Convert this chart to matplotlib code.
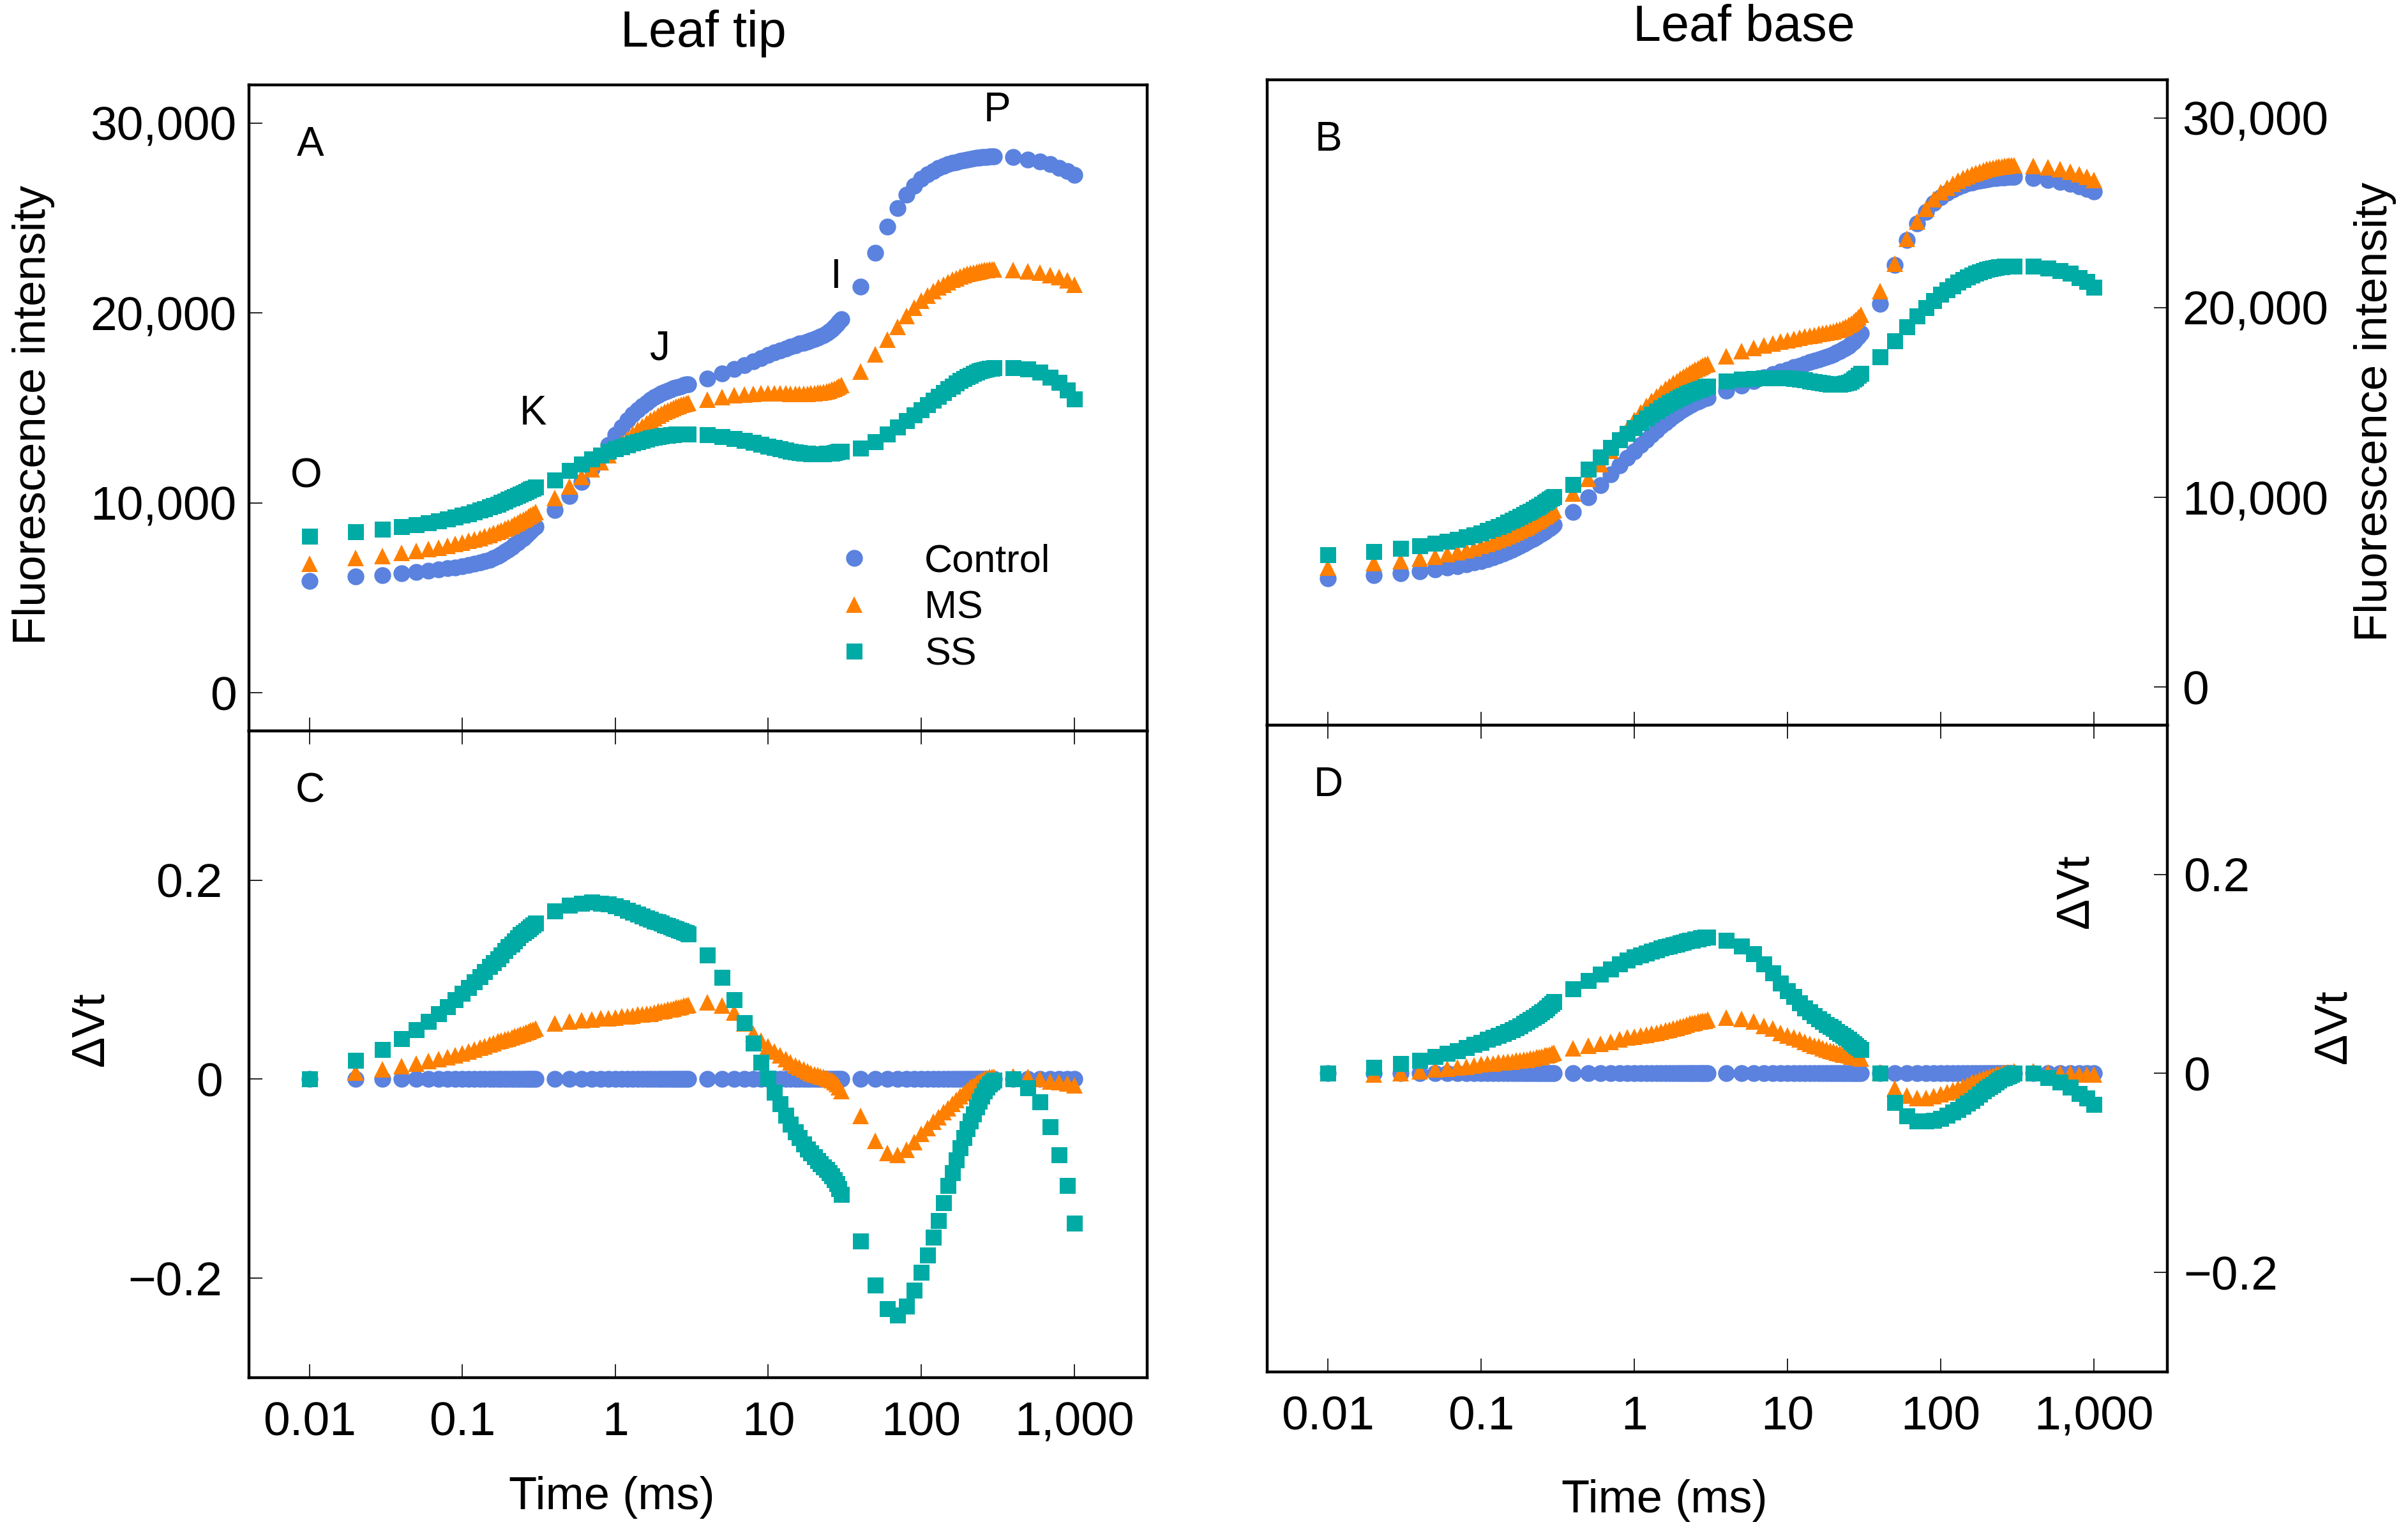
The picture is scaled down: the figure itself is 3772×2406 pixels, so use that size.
import matplotlib
matplotlib.use("Agg")
import matplotlib.pyplot as plt
from matplotlib.ticker import NullLocator

plt.rcParams['font.family'] = ['Liberation Sans', 'DejaVu Sans']

# sampling times of the OJIP transient (ms)
time_ms = [
    0.01, 0.02, 0.03, 0.04, 0.05, 0.06, 0.07, 0.08, 0.09, 0.10,
    0.11, 0.12, 0.13, 0.14, 0.15, 0.16, 0.17, 0.18, 0.19, 0.20,
    0.21, 0.22, 0.23, 0.24, 0.25, 0.26, 0.27, 0.28, 0.29, 0.30,
    0.4, 0.5, 0.6, 0.7, 0.8, 0.9, 1.0, 1.1, 1.2, 1.3, 1.4, 1.5, 1.6, 1.7,
    1.8, 1.9, 2.0, 2.1, 2.2, 2.3, 2.4, 2.5, 2.6, 2.7, 2.8, 2.9, 3.0,
    4, 5, 6, 7, 8, 9, 10, 11, 12, 13, 14, 15, 16, 17,
    18, 19, 20, 21, 22, 23, 24, 25, 26, 27, 28, 29, 30,
    40, 50, 60, 70, 80, 90, 100, 110, 120, 130, 140, 150, 160, 170,
    180, 190, 200, 210, 220, 230, 240, 250, 260, 270, 280, 290, 300,
    400, 500, 600, 700, 800, 900, 1000,
]

# ---- A: leaf tip, fluorescence intensity ----
tip_control = [
    5900, 6120, 6200, 6290, 6380, 6450, 6510, 6560, 6610, 6660,
    6720, 6790, 6860, 6940, 7020, 7110, 7210, 7320, 7430, 7550,
    7680, 7800, 7920, 8040, 8160, 8280, 8400, 8520, 8640, 8750,
    9610, 10380, 11100, 11800, 12450, 13050, 13600, 14000, 14350, 14650, 14900, 15100, 15280, 15430,
    15560, 15670, 15770, 15850, 15920, 15980, 16030, 16080, 16120, 16160, 16200, 16230, 16260,
    16560, 16820, 17050, 17260, 17450, 17620, 17780, 17920, 18040, 18140, 18230, 18310, 18380, 18440,
    18500, 18560, 18620, 18690, 18760, 18840, 18930, 19030, 19140, 19260, 19390, 19530, 19680,
    21370, 23160, 24540, 25520, 26220, 26700, 27050, 27300, 27480, 27620, 27730, 27820, 27890, 27950,
    28000, 28040, 28080, 28110, 28140, 28160, 28180, 28200, 28210, 28220, 28230, 28230, 28230,
    28190, 28080, 27970, 27820, 27640, 27460, 27250,
]
tip_ms = [
    6820, 7100, 7220, 7360, 7470, 7560, 7650, 7740, 7830, 7920,
    8000, 8080, 8160, 8240, 8320, 8400, 8480, 8560, 8640, 8720,
    8800, 8880, 8960, 9040, 9120, 9200, 9280, 9360, 9440, 9520,
    10270, 10880, 11360, 11780, 12160, 12520, 12850, 13140, 13400, 13640, 13850, 14030, 14200, 14350,
    14480, 14600, 14700, 14790, 14870, 14940, 15000, 15060, 15110, 15160, 15200, 15240, 15280,
    15450, 15580, 15660, 15710, 15740, 15760, 15770, 15770, 15770, 15760, 15750, 15740, 15740, 15740,
    15750, 15760, 15780, 15800, 15820, 15850, 15880, 15920, 15960, 16010, 16070, 16140, 16220,
    16930, 17810, 18600, 19280, 19830, 20270, 20630, 20920, 21150, 21340, 21500, 21630, 21740, 21830,
    21910, 21980, 22040, 22090, 22130, 22170, 22200, 22230, 22250, 22270, 22280, 22290, 22290,
    22250, 22190, 22120, 22000, 21880, 21720, 21500,
]
tip_ss = [
    8240, 8480, 8630, 8740, 8860, 8970, 9070, 9170, 9260, 9350,
    9440, 9530, 9620, 9700, 9780, 9860, 9940, 10020, 10100, 10180,
    10250, 10320, 10390, 10460, 10530, 10600, 10660, 10720, 10780, 10840,
    11190, 11700, 12060, 12320, 12530, 12700, 12840, 12960, 13060, 13150, 13230, 13300, 13360, 13410,
    13450, 13490, 13520, 13550, 13570, 13590, 13600, 13610, 13620, 13620, 13620, 13620, 13620,
    13590, 13500, 13400, 13300, 13190, 13090, 12990, 12910, 12840, 12780, 12730, 12690, 12650, 12620,
    12600, 12590, 12580, 12580, 12580, 12590, 12600, 12610, 12630, 12650, 12670, 12700, 12730,
    12890, 13220, 13620, 13980, 14320, 14620, 14900, 15160, 15400, 15620, 15820, 16000, 16160, 16300,
    16430, 16540, 16640, 16730, 16810, 16880, 16940, 16990, 17030, 17060, 17080, 17100, 17110,
    17130, 17040, 16870, 16620, 16330, 15950, 15470,
]

# ---- B: leaf base, fluorescence intensity ----
base_control = [
    5730, 5900, 6010, 6100, 6200, 6290, 6380, 6470, 6560, 6650,
    6750, 6850, 6950, 7050, 7150, 7250, 7350, 7450, 7550, 7650,
    7740, 7830, 7920, 8010, 8100, 8190, 8280, 8370, 8460, 8550,
    9230, 9990, 10650, 11200, 11680, 12080, 12430, 12750, 13040, 13300, 13540, 13760, 13950, 14120,
    14280, 14420, 14550, 14660, 14760, 14850, 14930, 15000, 15060, 15120, 15170, 15210, 15250,
    15610, 15900, 16130, 16320, 16480, 16620, 16740, 16850, 16950, 17040, 17120, 17200, 17270, 17340,
    17410, 17480, 17550, 17630, 17710, 17800, 17890, 17990, 18100, 18220, 18350, 18490, 18640,
    20210, 22240, 23550, 24430, 25050, 25500, 25830, 26060, 26230, 26360, 26460, 26540, 26600, 26650,
    26690, 26730, 26760, 26790, 26810, 26830, 26850, 26860, 26870, 26880, 26880, 26880, 26880,
    26840, 26730, 26620, 26510, 26380, 26250, 26110,
]
base_ms = [
    6320, 6540, 6650, 6780, 6890, 7000, 7110, 7220, 7330, 7440,
    7540, 7640, 7740, 7840, 7940, 8040, 8140, 8240, 8340, 8440,
    8530, 8620, 8710, 8800, 8890, 8980, 9070, 9160, 9250, 9340,
    10210, 10980, 11750, 12450, 13080, 13620, 14080, 14470, 14800, 15080, 15320, 15530, 15710, 15870,
    16010, 16140, 16260, 16370, 16470, 16560, 16640, 16720, 16790, 16860, 16930, 16990, 17050,
    17430, 17700, 17880, 18010, 18120, 18210, 18290, 18360, 18420, 18470, 18520, 18560, 18600, 18640,
    18680, 18720, 18760, 18810, 18860, 18920, 18990, 19070, 19160, 19260, 19370, 19490, 19620,
    20860, 22320, 23620, 24550, 25220, 25700, 26070, 26330, 26530, 26690, 26820, 26930, 27020, 27100,
    27170, 27230, 27280, 27320, 27360, 27390, 27420, 27440, 27460, 27470, 27480, 27490, 27490,
    27470, 27380, 27280, 27160, 27010, 26880, 26710,
]
base_ss = [
    6980, 7150, 7330, 7460, 7580, 7690, 7800, 7910, 8020, 8130,
    8240, 8350, 8460, 8570, 8680, 8790, 8890, 8990, 9090, 9190,
    9280, 9370, 9460, 9550, 9640, 9730, 9810, 9890, 9970, 10050,
    10690, 11480, 12120, 12620, 13030, 13380, 13680, 13940, 14170, 14370, 14550, 14710, 14850, 14980,
    15090, 15190, 15280, 15360, 15440, 15510, 15570, 15630, 15680, 15730, 15770, 15810, 15850,
    16120, 16220, 16270, 16300, 16310, 16300, 16280, 16250, 16220, 16180, 16140, 16100, 16060, 16020,
    15990, 15960, 15950, 15950, 15960, 15980, 16020, 16070, 16140, 16220, 16310, 16420, 16540,
    17390, 18240, 18980, 19560, 20000, 20380, 20690, 20940, 21150, 21330, 21480, 21610, 21720, 21810,
    21890, 21950, 22010, 22050, 22090, 22120, 22140, 22160, 22170, 22180, 22180, 22180, 22180,
    22180, 22090, 21960, 21810, 21590, 21370, 21080,
]

# ---- C: leaf tip, delta Vt (control is the reference -> zero) ----
dvt_tip_control = [0.0] * len(time_ms)
dvt_tip_ms = [
    0.000, 0.007, 0.010, 0.013, 0.016, 0.018, 0.020, 0.022, 0.024, 0.026,
    0.028, 0.030, 0.032, 0.033, 0.035, 0.036, 0.038, 0.039, 0.040, 0.041,
    0.042, 0.043, 0.044, 0.045, 0.046, 0.047, 0.048, 0.049, 0.050, 0.051,
    0.056, 0.058, 0.059, 0.060, 0.061, 0.061, 0.062, 0.063, 0.063, 0.064, 0.065, 0.065, 0.066, 0.066,
    0.067, 0.068, 0.068, 0.069, 0.070, 0.070, 0.071, 0.072, 0.072, 0.073, 0.074, 0.074, 0.075,
    0.077, 0.074, 0.067, 0.056, 0.046, 0.039, 0.033, 0.028, 0.024, 0.020, 0.017, 0.014, 0.012, 0.010,
    0.008, 0.006, 0.005, 0.004, 0.003, 0.002, 0.001, 0.000, -0.001, -0.003, -0.005, -0.008, -0.012,
    -0.037, -0.062, -0.074, -0.076, -0.071, -0.063, -0.055, -0.049, -0.043, -0.038, -0.033, -0.029, -0.025, -0.021,
    -0.017, -0.014, -0.011, -0.008, -0.006, -0.004, -0.002, -0.001, 0.000, 0.001, 0.002, 0.002, 0.002,
    0.003, 0.002, 0.000, -0.002, -0.003, -0.004, -0.006,
]
dvt_tip_ss = [
    0.000, 0.019, 0.030, 0.041, 0.050, 0.058, 0.066, 0.073, 0.080, 0.086,
    0.092, 0.098, 0.103, 0.108, 0.113, 0.117, 0.121, 0.125, 0.129, 0.133,
    0.136, 0.139, 0.142, 0.145, 0.147, 0.149, 0.151, 0.153, 0.155, 0.157,
    0.169, 0.175, 0.177, 0.178, 0.177, 0.176, 0.174, 0.172, 0.170, 0.168, 0.166, 0.164, 0.162, 0.161,
    0.159, 0.158, 0.157, 0.155, 0.154, 0.153, 0.152, 0.151, 0.150, 0.149, 0.148, 0.147, 0.146,
    0.125, 0.102, 0.080, 0.057, 0.036, 0.017, 0.001, -0.013, -0.025, -0.036, -0.045, -0.053, -0.059, -0.065,
    -0.070, -0.074, -0.078, -0.082, -0.085, -0.088, -0.091, -0.094, -0.097, -0.101, -0.105, -0.110, -0.116,
    -0.163, -0.207, -0.231, -0.237, -0.228, -0.212, -0.194, -0.177, -0.159, -0.142, -0.124, -0.107, -0.094, -0.081,
    -0.069, -0.059, -0.050, -0.042, -0.035, -0.028, -0.022, -0.017, -0.012, -0.008, -0.005, -0.003, -0.001,
    0.000, -0.009, -0.023, -0.048, -0.076, -0.107, -0.145,
]

# ---- D: leaf base, delta Vt ----
dvt_base_control = [0.0] * len(time_ms)
dvt_base_ms = [
    0.000, -0.001, 0.000, 0.002, 0.004, 0.005, 0.006, 0.007, 0.008, 0.009,
    0.010, 0.010, 0.011, 0.011, 0.012, 0.012, 0.013, 0.013, 0.014, 0.014,
    0.015, 0.015, 0.016, 0.016, 0.017, 0.018, 0.018, 0.019, 0.020, 0.021,
    0.025, 0.028, 0.030, 0.032, 0.034, 0.036, 0.037, 0.038, 0.039, 0.040, 0.041, 0.042, 0.043, 0.044,
    0.045, 0.046, 0.047, 0.048, 0.049, 0.050, 0.050, 0.051, 0.052, 0.052, 0.053, 0.053, 0.054,
    0.056, 0.055, 0.052, 0.048, 0.045, 0.041, 0.038, 0.036, 0.034, 0.032, 0.030, 0.028, 0.027, 0.025,
    0.024, 0.023, 0.022, 0.021, 0.020, 0.019, 0.019, 0.018, 0.017, 0.017, 0.016, 0.016, 0.015,
    0.001, -0.015, -0.022, -0.025, -0.025, -0.023, -0.021, -0.019, -0.017, -0.015, -0.013, -0.011, -0.009, -0.008,
    -0.006, -0.005, -0.004, -0.003, -0.002, -0.001, -0.001, 0.000, 0.000, 0.001, 0.001, 0.001, 0.002,
    0.002, 0.001, 0.000, 0.000, -0.001, -0.001, -0.001,
]
dvt_base_ss = [
    0.000, 0.006, 0.010, 0.013, 0.017, 0.020, 0.023, 0.026, 0.029, 0.031,
    0.034, 0.036, 0.038, 0.040, 0.042, 0.044, 0.046, 0.048, 0.050, 0.052,
    0.054, 0.056, 0.058, 0.060, 0.062, 0.064, 0.066, 0.068, 0.070, 0.072,
    0.085, 0.093, 0.100, 0.105, 0.110, 0.114, 0.117, 0.119, 0.121, 0.123, 0.124, 0.126, 0.127, 0.128,
    0.129, 0.130, 0.131, 0.132, 0.133, 0.134, 0.134, 0.135, 0.135, 0.136, 0.136, 0.137, 0.137,
    0.134, 0.128, 0.120, 0.110, 0.101, 0.091, 0.083, 0.077, 0.071, 0.066, 0.062, 0.058, 0.055, 0.052,
    0.049, 0.047, 0.045, 0.042, 0.040, 0.038, 0.036, 0.034, 0.032, 0.030, 0.028, 0.026, 0.024,
    0.000, -0.029, -0.043, -0.048, -0.048, -0.047, -0.045, -0.042, -0.039, -0.036, -0.033, -0.030, -0.027, -0.024,
    -0.021, -0.018, -0.015, -0.013, -0.011, -0.009, -0.007, -0.005, -0.004, -0.003, -0.002, -0.001, 0.000,
    0.000, -0.004, -0.009, -0.014, -0.020, -0.025, -0.031,
]

series_names = ['Control', 'MS', 'SS']
colors = {'Control': '#5a82de', 'MS': '#ff8000', 'SS': '#00aba6'}
markers = {'Control': 'o', 'MS': '^', 'SS': 's'}
msizes = {'Control': 19, 'MS': 19, 'SS': 18}

x_ticks = [0.01, 0.1, 1, 10, 100, 1000]
x_ticklabels = ['0.01', '0.1', '1', '10', '100', '1,000']
f_ticks = [0, 10000, 20000, 30000]
f_ticklabels = ['0', '10,000', '20,000', '30,000']
v_ticks = [-0.2, 0, 0.2]
v_ticklabels = ['\u22120.2', '0', '0.2']


def draw_series(ax, data):
    for name in series_names:
        ax.plot(time_ms, data[name], linestyle='none', marker=markers[name],
                markersize=msizes[name], markeredgewidth=0, color=colors[name], label=name)


def style_axes(ax, right=False):
    ax.set_xscale('log')
    ax.set_xlim(10 ** -2.395, 10 ** 3.478)
    ax.set_xticks(x_ticks)
    ax.xaxis.set_minor_locator(NullLocator())
    ax.yaxis.set_minor_locator(NullLocator())
    for sp in ax.spines.values():
        sp.set_linewidth(3.2)
    ax.tick_params(axis='both', direction='in', length=15, width=1.2, labelsize=54)
    if right:
        ax.yaxis.tick_right()
        ax.tick_params(axis='y', left=False, right=True, labelleft=False, labelright=True)


fig = plt.figure(figsize=(37.73, 24.06), dpi=100)
axA = fig.add_axes([0.1034, 0.5241, 0.3729, 0.4206])
axC = fig.add_axes([0.1034, 0.1031, 0.3729, 0.4210])
axB = fig.add_axes([0.5261, 0.5279, 0.3737, 0.4201])
axD = fig.add_axes([0.5261, 0.1068, 0.3737, 0.4211])

draw_series(axA, {'Control': tip_control, 'MS': tip_ms, 'SS': tip_ss})
draw_series(axB, {'Control': base_control, 'MS': base_ms, 'SS': base_ss})
draw_series(axC, {'Control': dvt_tip_control, 'MS': dvt_tip_ms, 'SS': dvt_tip_ss})
draw_series(axD, {'Control': dvt_base_control, 'MS': dvt_base_ms, 'SS': dvt_base_ss})

for ax, right in [(axA, False), (axC, False), (axB, True), (axD, True)]:
    style_axes(ax, right)

# fluorescence panels
for ax, pad in [(axA, 14), (axB, 17)]:
    ax.set_ylim(-2000, 32000)
    ax.set_yticks(f_ticks)
    ax.set_yticklabels(f_ticklabels)
    ax.tick_params(axis='x', labelbottom=False)
    ax.tick_params(axis='y', pad=pad)

# delta Vt panels
for ax, pad in [(axC, 30), (axD, 18)]:
    ax.set_ylim(-0.30, 0.35)
    ax.set_yticks(v_ticks)
    ax.set_yticklabels(v_ticklabels)
    ax.set_xticklabels(x_ticklabels)
    ax.tick_params(axis='x', top=True, pad=26)
    ax.tick_params(axis='y', pad=pad)

# panel letters
for ax, letter in [(axA, 'A'), (axB, 'B'), (axC, 'C'), (axD, 'D')]:
    ax.text(0.068, 0.907, letter, transform=ax.transAxes, fontsize=46,
            ha='center', va='center')

# OJIP step labels
for lbl, tx, ty in [('O', 0.0095, 11400), ('K', 0.29, 14700), ('J', 1.96, 18100),
                    ('I', 27.5, 21900), ('P', 315, 30650)]:
    axA.text(tx, ty, lbl, fontsize=46, ha='center', va='center')

axA.legend(loc='upper left', bbox_to_anchor=(0.652, 0.29), frameon=False, fontsize=44,
           handlelength=1.0, handletextpad=1.3, labelspacing=0.26, borderpad=0,
           borderaxespad=0, numpoints=1)

# titles and axis labels
fig.text(0.292, 0.978, 'Leaf tip', fontsize=57, ha='center', va='center')
fig.text(0.724, 0.982, 'Leaf base', fontsize=57, ha='center', va='center')
fig.text(0.254, 0.025, 'Time (ms)', fontsize=52, ha='center', va='center')
fig.text(0.691, 0.023, 'Time (ms)', fontsize=52, ha='center', va='center')
fig.text(0.014, 0.730, 'Fluorescence intensity', fontsize=52, rotation=90,
         ha='center', va='center')
fig.text(0.986, 0.732, 'Fluorescence intensity', fontsize=52, rotation=90,
         ha='center', va='center')
fig.text(0.038, 0.330, '\u0394Vt', fontsize=52, rotation=90, ha='center', va='center')
fig.text(0.969, 0.332, '\u0394Vt', fontsize=52, rotation=90, ha='center', va='center')
fig.text(0.862, 0.420, '\u0394Vt', fontsize=52, rotation=90, ha='center', va='center')

fig.savefig('out.png', dpi=100)
